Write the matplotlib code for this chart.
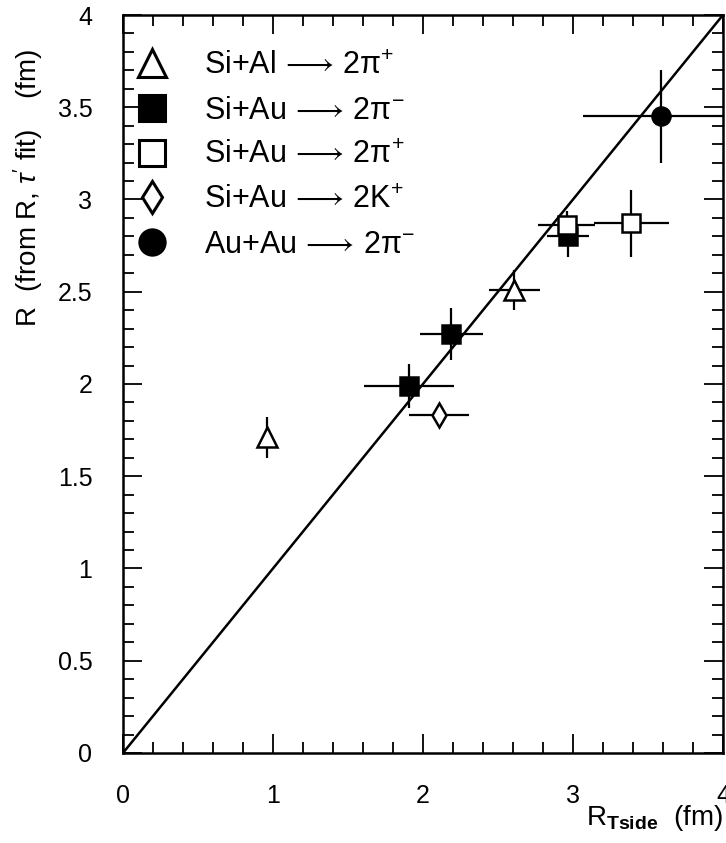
import matplotlib
matplotlib.use("Agg")
import matplotlib.pyplot as plt
from matplotlib.lines import Line2D
from matplotlib.ticker import MultipleLocator

plt.rcParams['font.family'] = ['Liberation Sans', 'DejaVu Sans']
plt.rcParams['mathtext.fontset'] = 'custom'
plt.rcParams['mathtext.rm'] = 'Liberation Sans'
plt.rcParams['mathtext.it'] = 'Liberation Sans:italic'
plt.rcParams['mathtext.bf'] = 'Liberation Sans:bold'

# Si+Al -> 2pi+ (open triangles)
sial_pip_x = [0.96, 2.61]
sial_pip_y = [1.71, 2.51]
sial_pip_xerr = [0.0, 0.17]
sial_pip_yerr = [0.11, 0.11]

# Si+Au -> 2pi- (filled squares)
siau_pim_x = [1.91, 2.19, 2.97]
siau_pim_y = [1.99, 2.27, 2.80]
siau_pim_xerr = [0.30, 0.21, 0.14]
siau_pim_yerr = [0.12, 0.14, 0.11]

# Si+Au -> 2pi+ (open squares)
siau_pip_x = [2.96, 3.39]
siau_pip_y = [2.86, 2.87]
siau_pip_xerr = [0.19, 0.25]
siau_pip_yerr = [0.08, 0.18]

# Si+Au -> 2K+ (open diamond)
siau_kp_x = [2.11]
siau_kp_y = [1.83]
siau_kp_xerr = [0.20]
siau_kp_yerr = [0.03]

# Au+Au -> 2pi- (filled circle)
auau_pim_x = [3.59]
auau_pim_y = [3.45]
auau_pim_xerr = [0.52]
auau_pim_yerr = [0.25]

# reference line R = R_Tside
diag = [0, 4]

x_ticks = [0, 1, 2, 3, 4]
y_ticks = [0, 0.5, 1, 1.5, 2, 2.5, 3, 3.5, 4]
y_tick_labels = ['0', '0.5', '1', '1.5', '2', '2.5', '3', '3.5', '4']

arrow = r'$\,\longrightarrow\,$'
series = [
    (sial_pip_x, sial_pip_y, sial_pip_xerr, sial_pip_yerr, '^', 'white', 14,
     'Si+Al' + arrow + '2π$^{+}$'),
    (siau_pim_x, siau_pim_y, siau_pim_xerr, siau_pim_yerr, 's', 'black', 13,
     'Si+Au' + arrow + '2π$^{-}$'),
    (siau_pip_x, siau_pip_y, siau_pip_xerr, siau_pip_yerr, 's', 'white', 13,
     'Si+Au' + arrow + '2π$^{+}$'),
    (siau_kp_x, siau_kp_y, siau_kp_xerr, siau_kp_yerr, 'd', 'white', 12,
     'Si+Au' + arrow + '2K$^{+}$'),
    (auau_pim_x, auau_pim_y, auau_pim_xerr, auau_pim_yerr, 'o', 'black', 13,
     'Au+Au' + arrow + '2π$^{-}$'),
]

fig = plt.figure(figsize=(7.26, 8.43), dpi=100)
ax = fig.add_axes([0.1694, 0.1068, 0.8264, 0.8754])

ax.plot(diag, diag, color='black', lw=1.8, zorder=2)

handles = []
for xs, ys, xe, ye, mk, fc, ms, lab in series:
    ax.errorbar(xs, ys, xerr=xe, yerr=ye, fmt='none', ecolor='black',
                elinewidth=1.6, capsize=0, zorder=3)
    ax.plot(xs, ys, ls='none', marker=mk, ms=ms, mfc=fc, mec='black',
            mew=1.8, zorder=4)
    handles.append(Line2D([], [], ls='none', marker=mk, ms=ms * 1.4, mfc=fc,
                          mec='black', mew=2.2, label=lab))

leg = ax.legend(handles=handles, loc='upper left', frameon=False,
                fontsize=22, handlelength=0.9, handletextpad=1.25,
                labelspacing=0.48, borderaxespad=0.1,
                bbox_to_anchor=(0.0, 0.972))

ax.set_xlim(0, 4)
ax.set_ylim(0, 4)
ax.xaxis.set_minor_locator(MultipleLocator(0.2))
ax.yaxis.set_minor_locator(MultipleLocator(0.1))
ax.set_xticks(x_ticks)
ax.set_xticklabels([str(t) for t in x_ticks])
ax.set_yticks(y_ticks)
ax.set_yticklabels(y_tick_labels)
ax.tick_params(which='both', direction='in', top=True, right=True,
               width=1.3, labelsize=18)
ax.tick_params(which='major', length=14)
ax.tick_params(which='minor', length=8)
ax.tick_params(axis='x', which='major', pad=22)
ax.tick_params(axis='y', which='major', pad=22)
for sp in ax.spines.values():
    sp.set_linewidth(1.8)

ax.annotate(r'R$_{\mathbf{Tside}}$  (fm)', xy=(1.0, 0), xycoords='axes fraction',
            xytext=(0, -65), textcoords='offset pixels', ha='right', va='center',
            fontsize=20)
fig.text(28 / 726, 1 - 188 / 843, r"R  (from R, $\tau^{\prime}$ fit)    (fm)",
         rotation=90, ha='center', va='center', fontsize=20)

fig.savefig('out.png', dpi=100)
